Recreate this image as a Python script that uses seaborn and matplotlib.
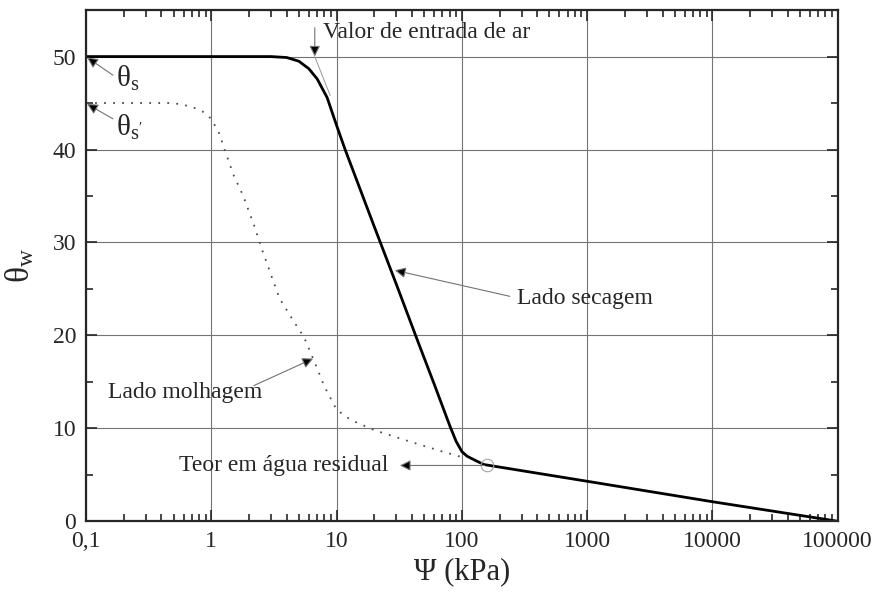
import matplotlib
matplotlib.use("Agg")
import matplotlib.pyplot as plt
import matplotlib.ticker as mticker
import seaborn as sns
import pandas as pd

# curva de secagem (linha continua)
psi_secagem = [0.1, 1, 3, 4, 5, 6, 7, 8.4, 10, 11.7, 20, 30, 45, 60, 80, 90, 100, 110, 130, 150,
               1000, 10000, 100000]
theta_secagem = [50, 50, 50, 49.9, 49.5, 48.7, 47.6, 45.6, 42.6, 40, 31.7, 25.5, 19.2, 14.8,
                 10.3, 8.6, 7.5, 7.0, 6.5, 6.1, 4.3, 2.1, 0.0]

# curva de molhagem (pontilhada)
psi_molhagem = [0.1, 0.3, 0.5, 0.7, 0.85, 1, 1.15, 1.3, 1.5, 1.8, 2.2, 2.5, 3, 3.5, 4.5, 5.5,
                6.5, 8, 10, 13, 20, 40, 70, 100]
theta_molhagem = [45, 45, 45, 44.6, 44.1, 43.3, 41.8, 39.7, 37.3, 35, 31.8, 29.5, 26.5, 24,
                  21.6, 19.8, 17.5, 14.5, 12, 10.9, 9.8, 8.5, 7.5, 6.9]

# tangente no valor de entrada de ar
tangente_x = [6.7, 8.9]
tangente_y = [50, 45.8]

# ponto do teor residual
residual_x = [158]
residual_y = [6.0]

xticks = [0.1, 1, 10, 100, 1000, 10000, 100000]
xtick_labels = ['0,1', '1', '10', '100', '1000', '10000', '100000']
yticks = [0, 10, 20, 30, 40, 50]

sns.set_style('ticks')
plt.rcParams['font.family'] = ['Liberation Serif', 'DejaVu Serif']
plt.rcParams['mathtext.fontset'] = 'custom'
plt.rcParams['mathtext.rm'] = 'Liberation Serif'
plt.rcParams['mathtext.it'] = 'Liberation Serif:italic'

fig = plt.figure(figsize=(8.78, 5.95), dpi=100)
ax = fig.add_axes([0.098, 0.124, 0.856, 0.859])
ax.set_xscale('log')

df_sec = pd.DataFrame({'psi': psi_secagem, 'theta': theta_secagem})
df_mol = pd.DataFrame({'psi': psi_molhagem, 'theta': theta_molhagem})

sns.lineplot(data=df_sec, x='psi', y='theta', ax=ax, color='black', lw=2.0, sort=False)
sns.lineplot(data=df_mol, x='psi', y='theta', ax=ax, color='0.3', lw=1.3,
             linestyle=(0, (1, 4)), sort=False)
ax.plot(tangente_x, tangente_y, color='0.6', lw=0.7)
ax.plot(residual_x, residual_y, marker='o', ms=9, mfc='none', mec='0.65', mew=0.8, ls='none')

ax.set_xlim(0.1, 100000)
ax.set_ylim(0, 55)
ax.xaxis.set_major_locator(mticker.FixedLocator(xticks))
ax.xaxis.set_major_formatter(mticker.FixedFormatter(xtick_labels))
ax.xaxis.set_minor_locator(mticker.LogLocator(base=10, subs=range(2, 10), numticks=20))
ax.xaxis.set_minor_formatter(mticker.NullFormatter())
ax.set_yticks(yticks)
ax.yaxis.set_minor_locator(mticker.MultipleLocator(5))

ax.grid(True, which='major', color='0.45', lw=0.8)
ax.tick_params(which='both', direction='in', top=True, right=True, labelsize=17, width=1.2, pad=7)
ax.tick_params(which='major', length=8)
ax.tick_params(which='minor', length=5)
for s in ax.spines.values():
    s.set_linewidth(1.6)

ax.set_xlabel('Ψ (kPa)', fontsize=22, labelpad=4)
ax.set_ylabel(r'$\mathrm{θ_w}$', fontsize=24, labelpad=12)

seta = dict(arrowstyle='-|>', color='0.45', fc='black', lw=0.8, mutation_scale=16,
            shrinkA=0, shrinkB=0)

ax.annotate('', xy=(0.102, 49.9), xytext=(0.164, 48.0), arrowprops=seta)
ax.text(0.175, 47.6, r'$\mathrm{θ_s}$', fontsize=21, va='center', ha='left')
ax.annotate('', xy=(0.102, 44.9), xytext=(0.164, 43.3), arrowprops=seta)
ax.text(0.175, 42.4, r"$\mathrm{θ_{s'}}$", fontsize=21, va='center', ha='left')

ax.annotate('', xy=(6.7, 50), xytext=(6.7, 53.1), arrowprops=seta)
ax.text(7.8, 52.6, 'Valor de entrada de ar', fontsize=17, va='center', ha='left')

ax.annotate('', xy=(29.2, 27.0), xytext=(242, 24.2), arrowprops=seta)
ax.text(275, 24.0, 'Lado secagem', fontsize=17, va='center', ha='left')

ax.annotate('', xy=(6.5, 17.5), xytext=(2.19, 14.6), arrowprops=seta)
ax.text(0.15, 13.9, 'Lado molhagem', fontsize=17, va='center', ha='left')

ax.annotate('', xy=(32, 6.0), xytext=(152, 6.0), arrowprops=seta)
ax.text(26, 6.0, 'Teor em água residual', fontsize=17, va='center', ha='right')

fig.savefig('out.png', dpi=100)
